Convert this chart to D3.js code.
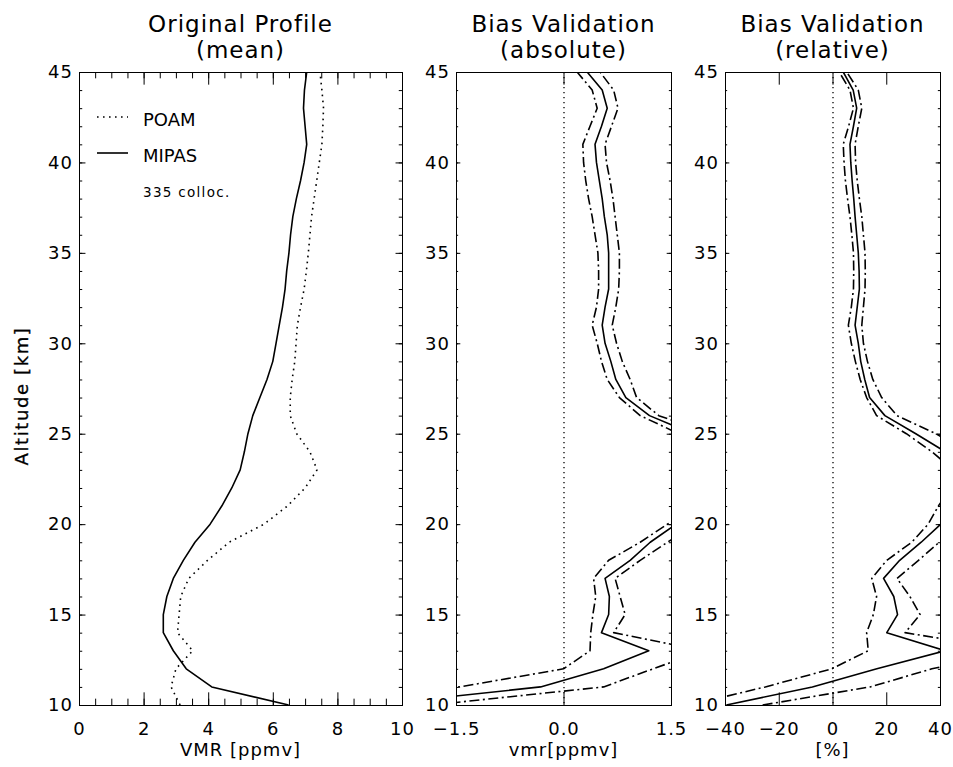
<!DOCTYPE html>
<html>
<head>
<meta charset="utf-8">
<script src="https://cdn.jsdelivr.net/npm/d3@7"></script>
<style>
  body { margin: 0; background: #fff; }
  text { font-family: "DejaVu Sans", sans-serif; fill: #000; }
</style>
</head>
<body>
<svg id="chart" width="953" height="767"></svg>
<script>
// Altitude grid of the mean profiles [km]
const altitudes = [10,11,12,13,14,15,16,17,18,19,20,21,22,23,24,25,26,27,28,29,30,31,32,33,34,35,36,37,38,39,40,41,42,43,44,45];

// Mean VMR profiles [ppmv]
const poamVmr  = [3.13,2.85,3.0,3.52,3.05,3.1,3.15,3.4,3.98,4.65,5.73,6.45,7.0,7.37,7.15,6.74,6.54,6.54,6.6,6.68,6.72,6.76,6.86,6.97,7.04,7.1,7.15,7.2,7.28,7.36,7.44,7.52,7.55,7.57,7.52,7.46];
const mipasVmr = [6.49,4.11,3.32,2.92,2.61,2.61,2.72,2.92,3.23,3.59,4.06,4.42,4.73,4.99,5.12,5.23,5.38,5.6,5.82,6.0,6.1,6.2,6.3,6.38,6.43,6.5,6.55,6.62,6.73,6.86,6.97,7.05,7.0,6.95,6.98,7.05];

// Absolute bias [ppmv] with lower / upper bounds
const absBias = [-2.68,-0.32,0.56,1.19,0.53,0.63,0.64,0.58,0.93,1.21,1.57,2.0,2.2,2.4,2.1,1.8,1.2,0.87,0.73,0.66,0.58,0.54,0.58,0.63,0.63,0.63,0.61,0.57,0.54,0.5,0.46,0.44,0.53,0.61,0.54,0.33];
const absLow  = [-3.5,-1.45,0.0,0.37,0.38,0.41,0.45,0.42,0.63,1.07,1.45,1.85,2.0,2.2,1.9,1.61,1.07,0.78,0.61,0.53,0.47,0.4,0.46,0.49,0.49,0.48,0.44,0.4,0.35,0.31,0.28,0.27,0.37,0.47,0.4,0.19];
const absHigh = [-1.84,0.56,1.25,1.95,0.7,0.86,0.79,0.72,1.07,1.45,1.85,2.2,2.4,2.6,2.3,2.04,1.33,1.02,0.93,0.82,0.74,0.68,0.73,0.77,0.78,0.78,0.75,0.72,0.69,0.65,0.6,0.58,0.67,0.76,0.7,0.51];

// Relative bias [%] with lower / upper bounds
const relBias = [-39.5,-7.5,16.5,42,20.2,24.2,22.8,19,25,33,40.3,45,47,48,42,31,19.5,13.8,12,10.5,9.6,8.4,9.2,10.0,9.9,9.6,9.0,8.4,7.9,7.3,6.8,6.5,7.8,9.0,7.7,4.0];
const relLow  = [-53,-25,-0.3,13.3,12.7,15.2,16.4,14.6,20.2,29.5,35.6,39.4,44,45,37,27.5,16.4,12.7,10.3,8.5,7.0,5.9,7.0,7.8,7.9,7.8,7.2,6.5,5.6,4.8,4.3,4.0,6.0,7.8,6.5,2.5];
const relHigh = [-26,14,37,68,27,32.6,28.8,24,32,39.7,48,52,54,55,50,38.5,24,18.3,15,13,11.5,10.9,11.5,12.1,12.2,12.1,11.5,10.9,10.0,9.2,8.6,8.4,9.6,10.9,9.6,5.3];

// Axis tick values
const altTicks   = [10,15,20,25,30,35,40,45];
const vmrTicks   = [0,2,4,6,8,10];
const absTicks   = [-1.5,0,1.5];
const relTicks   = [-40,-20,0,20,40];

const svg = d3.select("#chart");
const yTop = 72, yBot = 705;
const y = d3.scaleLinear().domain([10, 45]).range([yBot, yTop]);

const panels = [
  { id: "p1", x0: 79,  x1: 402, domain: [0, 10],     ticks: vmrTicks, minor: d3.range(0, 10.01, 0.5),
    fmt: d3.format("d"),   title: ["Original Profile", "(mean)"],     xlabel: "VMR [ppmv]" },
  { id: "p2", x0: 456, x1: 671, domain: [-1.5, 1.5], ticks: absTicks, minor: [],
    fmt: d3.format(".1f"), title: ["Bias Validation", "(absolute)"],  xlabel: "vmr[ppmv]" },
  { id: "p3", x0: 725, x1: 940, domain: [-40, 40],   ticks: relTicks, minor: [],
    fmt: d3.format("d"),   title: ["Bias Validation", "(relative)"],  xlabel: "[%]" }
];

const altMinor = d3.range(10, 45.01, 1);

panels.forEach(p => {
  const x = d3.scaleLinear().domain(p.domain).range([p.x0, p.x1]);
  p.x = x;
  const w = p.x1 - p.x0, h = yBot - yTop;
  const xMaj = 0.02 * h, yMaj = 0.02 * w;
  const g = svg.append("g");

  // clip region for the curves
  svg.append("clipPath").attr("id", "clip-" + p.id)
    .append("rect").attr("x", p.x0).attr("y", yTop).attr("width", w).attr("height", h);

  // bottom axis with labels
  g.append("g").attr("transform", `translate(0,${yBot})`)
    .call(d3.axisBottom(x).tickValues(p.ticks).tickFormat(p.fmt)
      .tickSizeInner(-xMaj).tickSizeOuter(0).tickPadding(17));
  if (p.minor.length) {
    g.append("g").attr("transform", `translate(0,${yBot})`)
      .call(d3.axisBottom(x).tickValues(p.minor).tickFormat("").tickSizeInner(-xMaj / 2).tickSizeOuter(0));
    g.append("g").attr("transform", `translate(0,${yTop})`)
      .call(d3.axisTop(x).tickValues(p.minor).tickFormat("").tickSizeInner(-xMaj / 2).tickSizeOuter(0));
  }
  g.append("g").attr("transform", `translate(0,${yTop})`)
    .call(d3.axisTop(x).tickValues(p.ticks).tickFormat("").tickSizeInner(-xMaj).tickSizeOuter(0));

  // left axis with labels, right axis ticks only
  g.append("g").attr("transform", `translate(${p.x0},0)`)
    .call(d3.axisLeft(y).tickValues(altTicks).tickFormat(d3.format("d"))
      .tickSizeInner(-yMaj).tickSizeOuter(0).tickPadding(6));
  g.append("g").attr("transform", `translate(${p.x0},0)`)
    .call(d3.axisLeft(y).tickValues(altMinor).tickFormat("").tickSizeInner(-yMaj / 2).tickSizeOuter(0));
  g.append("g").attr("transform", `translate(${p.x1},0)`)
    .call(d3.axisRight(y).tickValues(altTicks).tickFormat("").tickSizeInner(-yMaj).tickSizeOuter(0));
  g.append("g").attr("transform", `translate(${p.x1},0)`)
    .call(d3.axisRight(y).tickValues(altMinor).tickFormat("").tickSizeInner(-yMaj / 2).tickSizeOuter(0));

  g.selectAll(".domain").remove();
  g.selectAll(".tick line").attr("stroke", "#000").attr("stroke-width", 1);
  g.selectAll(".tick text").attr("font-size", 18).attr("letter-spacing", 1)
    .style("font-family", "DejaVu Sans, sans-serif");

  // plot frame
  g.append("rect").attr("x", p.x0 + 0.5).attr("y", yTop + 0.5)
    .attr("width", w).attr("height", h)
    .attr("fill", "none").attr("stroke", "#000").attr("stroke-width", 1);

  // titles
  const cx = (p.x0 + p.x1) / 2;
  svg.append("text").attr("x", cx).attr("y", 32).attr("text-anchor", "middle")
    .attr("font-size", 23).attr("letter-spacing", 1).text(p.title[0]);
  svg.append("text").attr("x", cx).attr("y", 58).attr("text-anchor", "middle")
    .attr("font-size", 23).attr("letter-spacing", 1).text(p.title[1]);

  // x-axis title
  svg.append("text").attr("x", cx).attr("y", 756).attr("text-anchor", "middle")
    .attr("font-size", 18).attr("letter-spacing", 1).text(p.xlabel);
});

// y-axis title
svg.append("text").attr("transform", "translate(28,396) rotate(-90)")
  .attr("text-anchor", "middle").attr("font-size", 18).attr("letter-spacing", 1.6)
  .attr("stroke", "#000").attr("stroke-width", 0.3)
  .text("Altitude [km]");

function drawCurve(p, values, dash) {
  const line = d3.line()
    .x((d, i) => p.x(values[i]))
    .y(d => y(d));
  svg.append("path")
    .datum(altitudes)
    .attr("clip-path", `url(#clip-${p.id})`)
    .attr("d", line)
    .attr("fill", "none")
    .attr("stroke", "#000")
    .attr("stroke-width", 1.6)
    .attr("stroke-linejoin", "round")
    .attr("stroke-dasharray", dash || null);
}

const [p1, p2, p3] = panels;
const dotted = "1.6,4.4";
const dashDot = "10,3.5,2,3.5";

// Panel 1: mean profiles
drawCurve(p1, poamVmr, dotted);
drawCurve(p1, mipasVmr);

// Panels 2 and 3: zero reference + bias curves
[p2, p3].forEach(p => {
  svg.append("line")
    .attr("x1", p.x(0) + 0.5).attr("x2", p.x(0) + 0.5)
    .attr("y1", yTop).attr("y2", yBot)
    .attr("stroke", "#000").attr("stroke-width", 1.3)
    .attr("stroke-dasharray", "1.3,3.7");
});
drawCurve(p2, absLow, dashDot);
drawCurve(p2, absHigh, dashDot);
drawCurve(p2, absBias);
drawCurve(p3, relLow, dashDot);
drawCurve(p3, relHigh, dashDot);
drawCurve(p3, relBias);

// Legend
const legend = svg.append("g");
legend.append("line").attr("x1", 97).attr("x2", 128).attr("y1", 117).attr("y2", 117)
  .attr("stroke", "#000").attr("stroke-width", 1.6).attr("stroke-dasharray", dotted);
legend.append("text").attr("x", 143).attr("y", 126).attr("font-size", 18).text("POAM");
legend.append("line").attr("x1", 97).attr("x2", 128).attr("y1", 153).attr("y2", 153)
  .attr("stroke", "#000").attr("stroke-width", 1.6);
legend.append("text").attr("x", 143).attr("y", 162).attr("font-size", 18).text("MIPAS");
legend.append("text").attr("x", 143).attr("y", 197).attr("font-size", 13.5)
  .attr("letter-spacing", 1.3).text("335 colloc.");
</script>
</body>
</html>
